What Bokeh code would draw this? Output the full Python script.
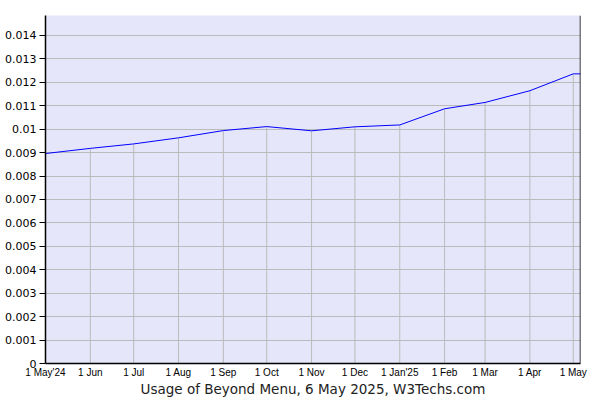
import pandas as pd
from bokeh.plotting import figure
from bokeh.models import FixedTicker, CustomJSTickFormatter, Range1d, Span
from bokeh.embed import file_html
from bokeh.resources import INLINE

# Data
dates = ["2024-05-01", "2024-06-01", "2024-07-01", "2024-08-01", "2024-09-01",
         "2024-10-01", "2024-11-01", "2024-12-01", "2025-01-01", "2025-02-01",
         "2025-03-01", "2025-04-01", "2025-05-01", "2025-05-06"]
usage = [0.00896, 0.00918, 0.00937, 0.00963, 0.00994, 0.01011, 0.00993,
         0.01010, 0.01018, 0.01087, 0.01114, 0.01164, 0.01236, 0.01236]
x_tick_dates = ["2024-05-01", "2024-06-01", "2024-07-01", "2024-08-01", "2024-09-01",
                "2024-10-01", "2024-11-01", "2024-12-01", "2025-01-01", "2025-02-01",
                "2025-03-01", "2025-04-01", "2025-05-01"]
x_tick_labels = ["1 May'24", "1 Jun", "1 Jul", "1 Aug", "1 Sep", "1 Oct", "1 Nov",
                 "1 Dec", "1 Jan'25", "1 Feb", "1 Mar", "1 Apr", "1 May"]
y_ticks = [0.0, 0.001, 0.002, 0.003, 0.004, 0.005, 0.006, 0.007, 0.008, 0.009,
           0.010, 0.011, 0.012, 0.013, 0.014]
title = "Usage of Beyond Menu, 6 May 2025, W3Techs.com"

xd = pd.to_datetime(dates)
tick_dt = pd.to_datetime(x_tick_dates)
tick_ms = [float(v) for v in (tick_dt.astype("int64") // 10**6)]
# values at tick dates (drop lines)
val_map = dict(zip(xd, usage))
tick_vals = [val_map[d] for d in tick_dt]

p = figure(width=600, height=400, output_backend="svg", toolbar_location=None,
           x_axis_type="datetime",
           x_range=Range1d(xd[0], xd[-1]), y_range=Range1d(0, 0.01485),
           min_border_left=45, min_border_right=20, min_border_top=15, min_border_bottom=37)

p.background_fill_color = "#E6E6FA"
p.border_fill_color = "white"
p.outline_line_color = None

# grids
p.xgrid.grid_line_color = None
p.ygrid.ticker = FixedTicker(ticks=y_ticks)
p.ygrid.grid_line_color = "#BBBBBB"
p.ygrid.grid_line_width = 1

# vertical drop lines
p.segment(x0=list(tick_dt), y0=[0] * len(tick_vals), x1=list(tick_dt), y1=tick_vals,
          line_color="#BBBBBB", line_width=1)

# data line
p.line(x=list(xd), y=usage, line_color="#0000FF", line_width=1)

# right border
p.add_layout(Span(location=float(xd[-1].value // 10**6), dimension="height",
                  line_color="black", line_width=1.5))

# y axis
p.yaxis.ticker = FixedTicker(ticks=y_ticks)
p.yaxis.formatter = CustomJSTickFormatter(code="""
    let s = tick.toFixed(3).replace(/0+$/, '').replace(/\\.$/, '');
    return s;
""")
p.yaxis.major_tick_out = 6
p.yaxis.major_tick_in = 0
p.yaxis.minor_tick_line_color = None
p.yaxis.major_label_standoff = 3
p.yaxis.major_label_text_font = "DejaVu Sans"
p.yaxis.major_label_text_font_size = "11px"
p.yaxis.major_label_text_color = "black"
p.yaxis.axis_line_color = "black"
p.yaxis.axis_line_width = 1.5
p.yaxis.major_tick_line_color = "black"

# x axis
p.xaxis.ticker = FixedTicker(ticks=tick_ms)
p.xaxis.formatter = CustomJSTickFormatter(args=dict(tpos=tick_ms, tlab=x_tick_labels), code="""
    for (let i = 0; i < tpos.length; i++) {
        if (Math.abs(tpos[i] - tick) < 1000) return tlab[i];
    }
    return '';
""")
p.xaxis.major_tick_out = 0
p.xaxis.major_tick_in = 0
p.xaxis.minor_tick_line_color = None
p.xaxis.major_label_standoff = 3
p.xaxis.major_label_text_font = "Liberation Sans"
p.xaxis.major_label_text_font_size = "10px"
p.xaxis.major_label_text_color = "black"
p.xaxis.axis_line_color = "black"
p.xaxis.axis_line_width = 1.5
p.xaxis.axis_label = title
p.xaxis.axis_label_standoff = 0
p.xaxis.axis_label_text_font = "DejaVu Sans"
p.xaxis.axis_label_text_font_size = "13.5px"
p.xaxis.axis_label_text_font_style = "normal"
p.xaxis.axis_label_text_color = "#222222"

open("out.html", "w").write(file_html(p, INLINE))
